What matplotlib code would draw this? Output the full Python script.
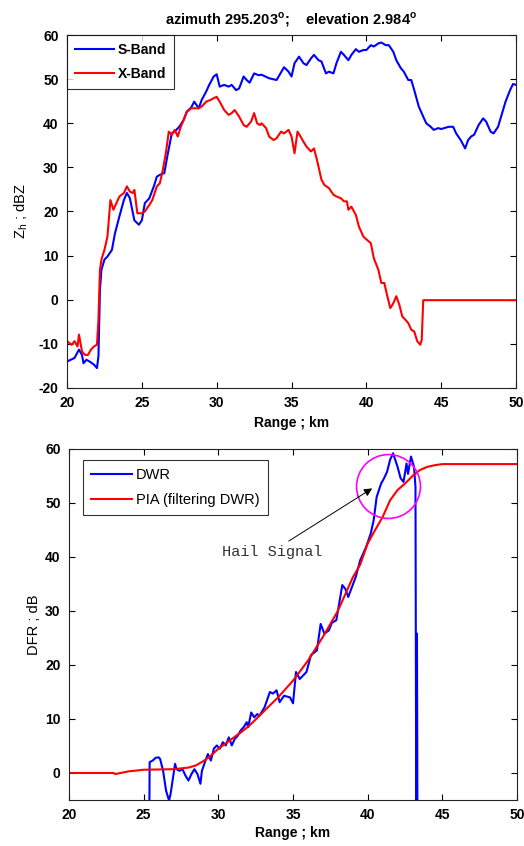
import numpy as np
import matplotlib
matplotlib.use("Agg")
import matplotlib.pyplot as plt

plt.rcParams["font.family"] = ["Liberation Sans", "DejaVu Sans"]
plt.rcParams["mathtext.fontset"] = "custom"
plt.rcParams["mathtext.rm"] = "Liberation Sans"
plt.rcParams["mathtext.bf"] = "Liberation Sans:bold"
plt.rcParams["axes.unicode_minus"] = False

# ---- top panel: reflectivity (dBZ) vs range (km)
s_range = [20.0, 20.5, 20.8, 21.0, 21.1, 21.3, 21.5, 21.8, 22.0, 22.1, 22.2, 22.3, 22.5, 22.7,
           23.0, 23.2, 23.5, 23.8, 24.0, 24.2, 24.5, 24.8, 25.0, 25.2, 25.5, 25.8, 26.0, 26.2,
           26.5, 26.7, 27.0, 27.3, 27.5, 27.8, 28.0, 28.3, 28.5, 28.8, 29.0, 29.3, 29.5, 29.8,
           30.0, 30.2, 30.5, 30.8, 31.0, 31.3, 31.5, 31.8, 32.0, 32.2, 32.5, 32.8, 33.0, 33.5,
           34.0, 34.5, 34.8, 35.0, 35.2, 35.5, 35.8, 36.0, 36.3, 36.5, 36.8, 37.0, 37.3, 37.5,
           37.8, 38.0, 38.3, 38.5, 38.8, 39.0, 39.3, 39.5, 39.8, 40.0, 40.3, 40.5, 40.8, 41.0,
           41.3, 41.5, 41.8, 42.0, 42.3, 42.5, 42.8, 43.0, 43.2, 43.5, 43.8, 44.0, 44.3, 44.5,
           44.8, 45.0, 45.5, 45.8, 46.0, 46.3, 46.6, 46.8, 47.0, 47.2, 47.5, 47.8, 48.0, 48.3,
           48.5, 48.8, 49.0, 49.3, 49.6, 49.8, 50.0]
s_band = [-14.0, -13.2, -11.3, -12.5, -14.4, -13.6, -14.0, -14.7, -15.5, -12.8, 2.3, 6.8, 9.1,
          9.8, 11.3, 15.0, 18.9, 22.6, 24.2, 23.0, 18.0, 17.0, 18.0, 21.9, 23.0, 25.7, 27.9,
          28.3, 28.7, 32.5, 37.7, 38.5, 39.2, 40.8, 42.6, 43.6, 44.9, 43.4, 45.3, 47.2, 48.7,
          50.6, 51.1, 48.3, 48.7, 48.3, 48.7, 47.5, 47.9, 50.6, 49.8, 49.2, 51.3, 50.9, 51.0,
          50.2, 49.8, 52.7, 51.7, 50.6, 53.6, 55.1, 53.6, 53.2, 54.7, 55.5, 54.3, 54.0, 51.3,
          51.7, 51.3, 53.6, 56.2, 55.5, 54.3, 55.5, 56.8, 56.2, 56.6, 56.6, 57.7, 57.4, 58.1,
          58.3, 57.7, 57.7, 56.2, 54.3, 52.5, 51.7, 49.8, 49.8, 47.5, 43.8, 41.5, 40.0, 39.2,
          38.5, 38.9, 38.7, 39.2, 39.2, 37.7, 36.2, 34.3, 36.2, 37.0, 37.4, 39.6, 41.1, 40.4,
          38.1, 37.7, 39.2, 41.5, 44.9, 47.5, 48.9, 48.7]

x_range = [20.0, 20.3, 20.5, 20.7, 20.8, 21.0, 21.2, 21.4, 21.6, 21.8, 22.0, 22.1, 22.2, 22.3,
           22.5, 22.7, 22.9, 23.1, 23.3, 23.5, 23.8, 24.0, 24.2, 24.4, 24.5, 24.7, 25.0, 25.2,
           25.5, 25.7, 26.0, 26.2, 26.4, 26.6, 26.8, 27.0, 27.2, 27.4, 27.6, 27.8, 28.0, 28.3,
           28.5, 28.8, 29.0, 29.3, 29.6, 29.8, 30.0, 30.2, 30.5, 30.8, 31.0, 31.2, 31.5, 31.8,
           32.0, 32.3, 32.5, 32.7, 32.9, 33.0, 33.3, 33.5, 33.8, 34.0, 34.3, 34.5, 34.8, 35.0,
           35.2, 35.4, 35.6, 35.8, 36.0, 36.3, 36.5, 36.7, 37.0, 37.2, 37.5, 37.8, 38.0, 38.3,
           38.5, 38.7, 38.8, 39.0, 39.3, 39.5, 39.8, 40.0, 40.3, 40.5, 40.8, 41.0, 41.2, 41.4,
           41.6, 41.8, 42.0, 42.2, 42.4, 42.6, 42.8, 43.0, 43.2, 43.4, 43.6, 43.7, 43.8, 45.0,
           50.0]
x_band = [-9.4, -10.2, -9.4, -10.6, -7.9, -11.7, -12.5, -12.5, -11.3, -10.6, -10.2, -4.5, 6.8,
          9.1, 11.3, 14.3, 22.6, 20.4, 21.9, 23.4, 24.2, 25.7, 24.5, 24.2, 24.9, 19.6, 19.6,
          20.0, 21.5, 22.6, 25.7, 26.4, 29.4, 33.2, 38.1, 37.4, 38.5, 37.0, 39.2, 40.8, 42.6,
          43.4, 43.4, 43.4, 43.8, 44.9, 45.3, 45.7, 46.0, 44.9, 43.0, 41.9, 42.3, 43.0, 41.5,
          39.6, 39.2, 40.4, 42.3, 40.0, 39.6, 40.0, 38.9, 37.0, 36.2, 36.6, 38.1, 37.7, 38.5,
          37.0, 33.2, 38.1, 37.0, 35.8, 34.7, 33.6, 34.3, 31.7, 27.2, 26.0, 25.3, 23.8, 23.4,
          23.0, 22.3, 22.3, 20.4, 21.1, 19.2, 16.6, 14.3, 13.7, 12.8, 9.4, 6.8, 3.8, 3.8, 0.8,
          -1.9, -0.8, 0.8, -1.1, -3.8, -4.5, -5.3, -6.8, -7.2, -9.4, -10.2, -9.1, -0.1, -0.1,
          -0.1]

# ---- bottom panel: dual-frequency ratio (dB) vs range (km)
dwr_range = [25.35, 25.4, 25.6, 25.8, 26.0, 26.1, 26.3, 26.5, 26.7, 26.8, 27.0, 27.1, 27.2,
             27.4, 27.6, 27.8, 28.0, 28.2, 28.4, 28.6, 28.8, 28.9, 29.1, 29.3, 29.5, 29.7,
             29.9, 30.1, 30.3, 30.5, 30.7, 30.9, 31.1, 31.3, 31.5, 31.7, 31.9, 32.0, 32.2,
             32.4, 32.6, 32.75, 33.1, 33.45, 33.65, 33.9, 34.1, 34.4, 34.8, 35.0, 35.2, 35.45,
             35.9, 36.2, 36.6, 36.85, 37.1, 37.4, 37.6, 37.9, 38.3, 38.5, 38.7, 38.9, 39.2,
             39.5, 39.9, 40.2, 40.4, 40.6, 40.9, 41.1, 41.3, 41.5, 41.7, 42.0, 42.2, 42.4,
             42.6, 42.7, 42.9, 43.1, 43.2, 43.26, 43.3, 43.34]
dwr = [-20.0, 2.0, 2.3, 2.8, 2.9, 2.6, 0.4, -3.3, -5.1, -3.9, -0.2, 1.7, 0.7, 0.4, 0.7, -0.5,
       -1.4, -0.2, 0.7, -0.2, -2.0, 0.4, 2.0, 3.5, 2.3, 4.5, 5.1, 4.5, 5.7, 5.1, 6.6, 5.1, 6.3,
       6.9, 7.9, 8.5, 9.4, 8.5, 11.2, 10.3, 10.9, 10.6, 12.2, 15.0, 14.7, 15.3, 13.1, 14.3,
       14.0, 12.9, 18.7, 17.4, 18.7, 21.8, 22.7, 27.6, 25.8, 26.4, 27.8, 28.3, 34.8, 34.1, 32.6,
       34.1, 36.3, 39.4, 41.9, 44.3, 46.8, 51.1, 53.6, 54.6, 55.8, 58.0, 59.2, 56.7, 54.6, 53.9,
       57.3, 55.4, 58.6, 56.7, 53.0, -20.0, 25.8, -20.0]

pia_range = [20.0, 23.0, 23.1, 24.0, 25.0, 27.0, 28.0, 28.5, 29.0, 29.5, 30.0, 30.5, 31.0,
             31.5, 32.0, 32.5, 33.0, 34.0, 35.0, 36.0, 37.0, 38.0, 39.0, 39.5, 40.0, 40.5,
             41.0, 41.5, 42.0, 42.5, 43.0, 43.5, 44.0, 44.5, 45.0, 50.0]
pia = [0.0, 0.0, -0.2, 0.3, 0.6, 0.7, 1.0, 1.4, 2.2, 3.2, 4.5, 5.5, 6.5, 7.5, 8.6, 9.9, 11.3,
       14.0, 17.1, 20.8, 25.2, 30.0, 36.2, 38.6, 42.5, 45.0, 47.4, 50.5, 52.4, 53.6, 55.0,
       56.1, 56.7, 57.0, 57.2, 57.2]

hail_center = (41.35, 53.2)
hail_text_pos = (33.6, 41.0)
hail_arrow_tip = (40.3, 52.7)

title = r"azimuth 295.203$^{\mathbf{o}}$;    elevation 2.984$^{\mathbf{o}}$"


def style_axes(ax):
    ax.tick_params(direction="in", top=True, right=True, length=4, width=0.8,
                   labelsize=10, pad=6)
    for lab in ax.get_xticklabels() + ax.get_yticklabels():
        lab.set_fontweight("bold")
    for sp in ax.spines.values():
        sp.set_linewidth(0.8)
        sp.set_color("#222222")


def style_legend(leg):
    leg.get_frame().set_edgecolor("black")
    leg.get_frame().set_linewidth(0.8)


fig = plt.figure(figsize=(5.24, 8.46), dpi=100)
ax1 = fig.add_axes([0.1279, 0.5414, 0.8569, 0.4172])
ax2 = fig.add_axes([0.1317, 0.0544, 0.8550, 0.4149])

ax1.plot(s_range, s_band, color="#0000ff", lw=1.5, label="S-Band")
ax1.plot(x_range, x_band, color="#ff0000", lw=1.5, label="X-Band")
ax1.set_xlim(20, 50)
ax1.set_ylim(-20, 60)
ax1.set_xticks(np.arange(20, 51, 5))
ax1.set_yticks(np.arange(-20, 61, 10))
ax1.set_xlabel("Range ; km", fontweight="bold", fontsize=10, labelpad=4)
ax1.set_ylabel(r"Z$_{\mathrm{h}}$ ; dBZ", fontsize=10.5, labelpad=6)
ax1.set_title(title, fontweight="bold", fontsize=10.5, pad=8)
style_axes(ax1)
leg1 = ax1.legend(loc="upper left", borderaxespad=0, fancybox=False, handlelength=2.8,
                  handletextpad=0.3, borderpad=0.55, labelspacing=0.74,
                  prop={"weight": "bold", "size": 10})
style_legend(leg1)

ax2.plot(dwr_range, dwr, color="#0000ff", lw=1.5, label="DWR")
ax2.plot(pia_range, pia, color="#ff0000", lw=1.5, label="PIA (filtering DWR)")
ax2.plot([hail_center[0]], [hail_center[1]], marker="o", ms=46, mfc="none", mec="#ff00ff",
         mew=1.2, ls="none")
ax2.annotate("Hail Signal", xy=hail_arrow_tip, xytext=hail_text_pos, ha="center",
             va="center", fontsize=11, family="Liberation Mono", color="#333333",
             arrowprops=dict(arrowstyle="-|>", color="black", lw=0.7, mutation_scale=12,
                             shrinkA=1, shrinkB=0))
ax2.set_xlim(20, 50)
ax2.set_ylim(-5, 60)
ax2.set_xticks(np.arange(20, 51, 5))
ax2.set_yticks(np.arange(0, 61, 10))
ax2.set_xlabel("Range ; km", fontweight="bold", fontsize=10, labelpad=3)
ax2.set_ylabel("DFR ; dB", fontsize=10.5, labelpad=3)
style_axes(ax2)
leg2 = ax2.legend(loc="upper left", bbox_to_anchor=(0.031, 0.969), borderaxespad=0,
                  fancybox=False, handlelength=2.8, handletextpad=0.3, borderpad=0.55,
                  labelspacing=0.74, prop={"size": 10.5})
style_legend(leg2)

fig.savefig("out.png", dpi=100)
